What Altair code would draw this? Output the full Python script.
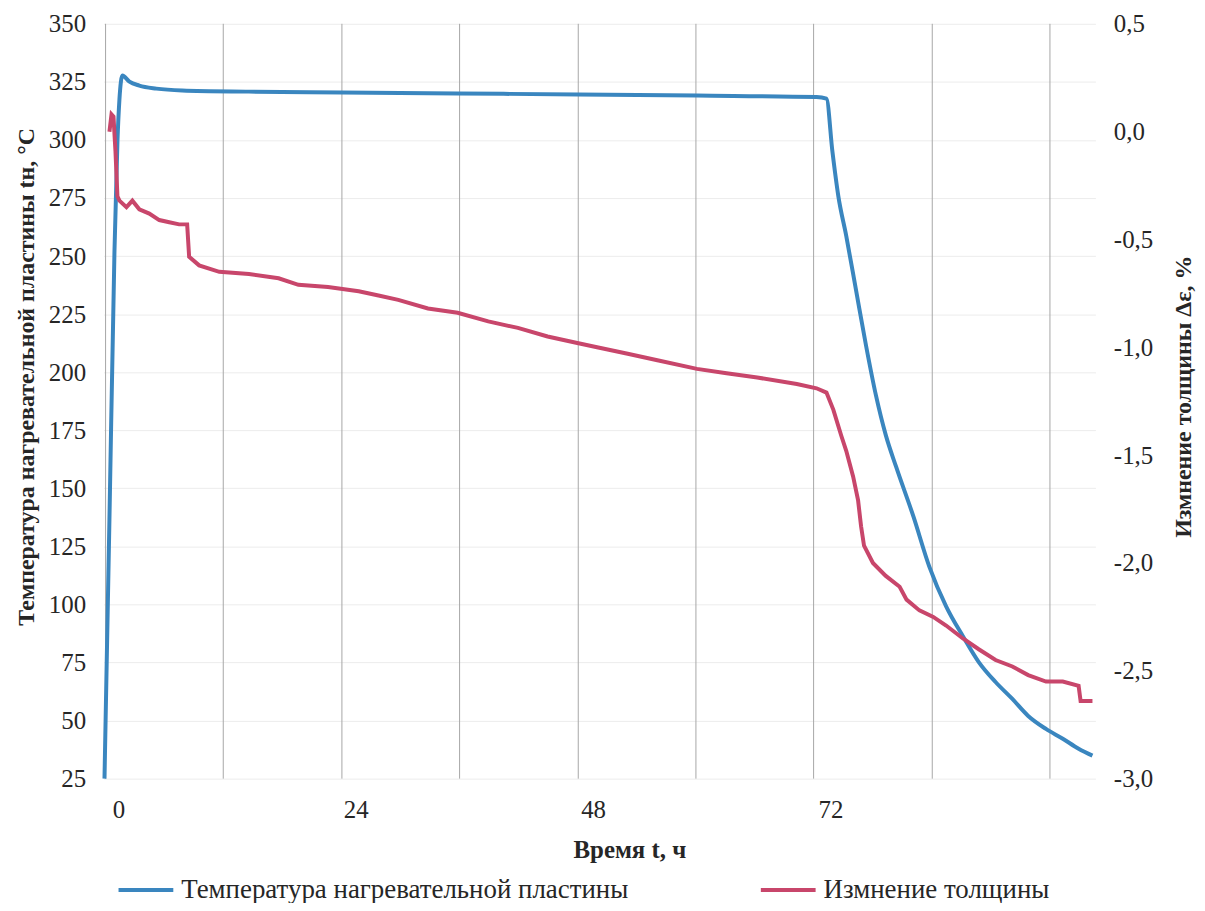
import altair as alt
import pandas as pd

# ---- data ----
temp_hours = [-1.41, -0.91, -0.40, -0.10, 0.10, 0.40, 1.11, 2.11, 3.83, 6.45, 13.2, 22.6,
              34.3, 46.5, 58.5, 70.6, 71.6, 72.2, 72.8, 73.6, 74.6, 75.6, 76.6, 77.6, 78.65,
              80.4, 82.0, 83.7, 85.4, 87.0, 88.7, 90.4, 92.0, 93.8, 95.5, 97.1, 98.5]
temp_vals = [25.0, 136.5, 252.2, 299.4, 317.4, 327.7, 325.1, 323.4, 322.1, 321.3, 320.8, 320.4,
             320.0, 319.6, 319.1, 318.5, 317.8, 295.1, 275.8, 258.7, 235.1, 211.5, 190.1, 172.9, 159.2,
             137.8, 116.3, 99.2, 86.3, 75.2, 66.6, 59.3, 52.0, 46.4, 42.2, 37.9, 34.9]

thick_hours = [-0.91, -0.70, -0.50, -0.30, -0.10, 0.10, 0.81, 1.41, 2.11, 3.12, 4.13, 5.14, 6.14,
               6.95, 7.15, 8.16, 10.2, 13.2, 16.2, 18.2, 21.2, 24.3, 26.3, 28.3, 31.3, 34.3, 37.4,
               40.4, 43.4, 46.4, 48.4, 51.5, 54.5, 58.5, 61.5, 64.6, 68.6, 70.6, 71.6, 72.3, 73.1,
               73.6, 74.3, 74.8, 75.1, 75.4, 76.3, 77.6, 79.0, 79.7, 81.0, 82.4, 83.7, 85.4, 87.0,
               88.7, 90.4, 92.0, 93.8, 95.5, 97.1, 97.3, 98.5]
thick_vals = [0.00, 0.08, 0.07, -0.09, -0.30, -0.32, -0.35, -0.32, -0.36, -0.38, -0.41, -0.42, -0.43,
              -0.43, -0.58, -0.62, -0.65, -0.66, -0.68, -0.71, -0.72, -0.74, -0.76, -0.78, -0.82, -0.84, -0.88,
              -0.91, -0.95, -0.98, -1.00, -1.03, -1.06, -1.10, -1.12, -1.14, -1.17, -1.19, -1.21, -1.29, -1.41,
              -1.48, -1.60, -1.71, -1.83, -1.92, -2.00, -2.06, -2.11, -2.17, -2.22, -2.25, -2.29, -2.35, -2.40,
              -2.45, -2.48, -2.52, -2.55, -2.55, -2.57, -2.64, -2.64]

x_tick_labels = [0, 24, 48, 72]
x_grid_hours = [-1.3, 10.6, 22.6, 34.5, 46.5, 58.4, 70.3, 82.3, 94.2]
left_ticks = list(range(25, 351, 25))
right_ticks = [-3.0, -2.5, -2.0, -1.5, -1.0, -0.5, 0.0, 0.5]

temp_name = "Температура нагревательной пластины"
thick_name = "Измнение толщины"

df_t = pd.DataFrame({"hours": temp_hours, "value": temp_vals, "series": temp_name})
df_r = pd.DataFrame({"hours": thick_hours, "value": thick_vals, "series": thick_name})
df_g = pd.DataFrame({"hours": x_grid_hours})

FONT = "Liberation Serif"
TXT = "#262626"
x_scale = alt.Scale(domain=[-1.5, 98.8], nice=False, zero=False)

x_axis = alt.Axis(
    values=x_tick_labels, format="d", grid=False, domain=False, ticks=False, tickSize=0,
    labelFont=FONT, labelFontSize=25, labelColor=TXT, labelPadding=19,
    title="Время t, ч", titleFont=FONT, titleFontSize=25, titleFontWeight="bold",
    titleColor=TXT, titleX=528, titleY=71, titleBaseline="middle", titleAlign="center")

color = alt.Color(
    "series:N",
    scale=alt.Scale(domain=[temp_name, thick_name], range=["#3A86BF", "#C8466B"]),
    legend=alt.Legend(
        title=None, orient="none", direction="horizontal", legendX=13, legendY=840,
        symbolType="stroke", symbolSize=3025, symbolStrokeWidth=4,
        labelFont=FONT, labelFontSize=27, labelColor=TXT, labelOffset=6, labelLimit=0,
        columnPadding=124, padding=0,
    ),
)

grid = alt.Chart(df_g).mark_rule(color="#a6a6a6", strokeWidth=1).encode(
    x=alt.X("hours:Q", scale=x_scale, axis=x_axis)
)

temp_line = alt.Chart(df_t).mark_line(strokeWidth=4, interpolate="monotone").encode(
    x=alt.X("hours:Q", scale=x_scale, axis=x_axis),
    y=alt.Y("value:Q", scale=alt.Scale(domain=[25, 350], nice=False, zero=False), axis=alt.Axis(
        values=left_ticks, format="d", grid=True, gridColor="#ececec", domain=False, ticks=False,
        tickSize=0, labelFont=FONT, labelFontSize=25, labelColor=TXT, labelPadding=18,
        title="Температура нагревательной пластины tн, °C", titleFont=FONT, titleFontSize=24,
        titleFontWeight="bold", titleColor=TXT, titleAngle=270, titleX=-77, titleY=354,
        titleBaseline="middle", titleAlign="center")),
    color=color,
)

thick_line = alt.Chart(df_r).mark_line(strokeWidth=4).encode(
    x=alt.X("hours:Q", scale=x_scale, axis=x_axis),
    y=alt.Y("value:Q", scale=alt.Scale(domain=[-3.0, 0.5], nice=False, zero=False), axis=alt.Axis(
        orient="right", values=right_ticks, grid=False, domain=False, ticks=False, tickSize=0,
        labelExpr="(datum.value < 0 ? '-' : '') + replace(format(abs(datum.value), '.1f'), '.', ',')",
        labelFont=FONT, labelFontSize=25, labelColor=TXT, labelPadding=18, labelAlign="left",
        title="Измнение толщины Δε, %", titleFont=FONT, titleFontSize=24, titleFontWeight="bold",
        titleColor=TXT, titleAngle=270, titleX=88, titleY=374, titleBaseline="middle",
        titleAlign="center")),
    color=color,
)

chart = alt.layer(grid, temp_line, thick_line).resolve_scale(y="independent").properties(
    width=996, height=758,
    autosize=alt.AutoSizeParams(type="none"),
    padding={"left": 96, "top": 14, "right": 102, "bottom": 123},
    background="white",
).configure(
    font=FONT,
).configure_view(stroke=None).configure_legend(
    labelFont=FONT, labelFontSize=27, labelColor=TXT
)

chart.save("out.html", embed_options={"renderer": "svg", "actions": False})
